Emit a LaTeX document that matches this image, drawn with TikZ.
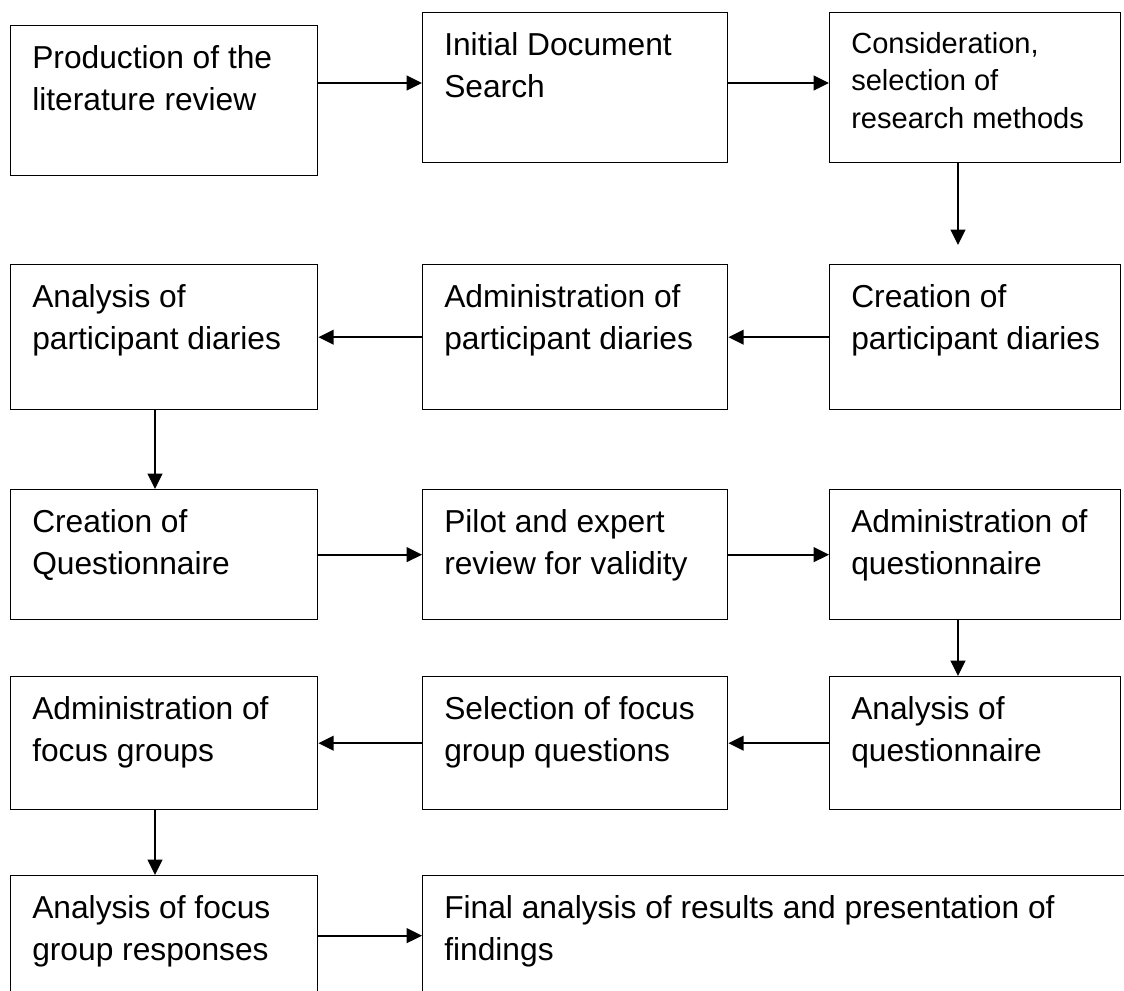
\documentclass[tikz,border=0pt]{standalone}
\usepackage{fontspec}
\setmainfont{Liberation Sans}
\usetikzlibrary{arrows.meta}

\tikzset{
  stage/.style={draw, line width=1pt, rectangle, anchor=north west, inner sep=0pt},
  stagetext/.style={anchor=north west, align=left, inner sep=0pt, xshift=16.5pt, yshift=-15pt,
    font=\fontsize{23.8}{31.5}\selectfont},
  flow/.style={-{Triangle[length=11.5pt,width=11pt]}, line width=1.5pt}
}

\begin{document}
\begin{tikzpicture}[x=0.75pt, y=-0.75pt]
  \useasboundingbox (0,0) rectangle (1124,991);
  % Boxes
  \node[stage, minimum width=230.25pt, minimum height=112.5pt] (prod) at (10,25) {};
  \node[stage, minimum width=228.75pt, minimum height=112.5pt] (search) at (422,12) {};
  \node[stage, minimum width=218.25pt, minimum height=112.5pt] (consid) at (829,12) {};
  \node[stage, minimum width=218.25pt, minimum height=108.75pt] (cdiary) at (829,264) {};
  \node[stage, minimum width=228.75pt, minimum height=108.75pt] (adiary) at (422,264) {};
  \node[stage, minimum width=230.25pt, minimum height=108.75pt] (andiary) at (10,264) {};
  \node[stage, minimum width=230.25pt, minimum height=97.5pt] (cquest) at (10,489) {};
  \node[stage, minimum width=228.75pt, minimum height=97.5pt] (pilot) at (422,489) {};
  \node[stage, minimum width=218.25pt, minimum height=97.5pt] (aquest) at (829,489) {};
  \node[stage, minimum width=218.25pt, minimum height=99.75pt] (anquest) at (829,676) {};
  \node[stage, minimum width=228.75pt, minimum height=99.75pt] (selfocus) at (422,676) {};
  \node[stage, minimum width=230.25pt, minimum height=99.75pt] (admfocus) at (10,676) {};
  \node[stage, minimum width=230.25pt, minimum height=90pt] (anfocus) at (10,875) {};
  \node[stage, minimum width=540pt, minimum height=90pt] (final) at (422,875) {};

  % Texts, top left in each box
  \node[stagetext] (prod-t) at (prod.north west) {Production of the\\literature review};
  \node[stagetext] (search-t) at (search.north west) {Initial Document\\Search};
  \node[stagetext, font=\fontsize{21.8}{28.1}\selectfont] (consid-t) at (consid.north west)
    {Consideration,\\selection of\\research methods};
  \node[stagetext] (cdiary-t) at (cdiary.north west) {Creation of\\participant diaries};
  \node[stagetext] (adiary-t) at (adiary.north west) {Administration of\\participant diaries};
  \node[stagetext] (andiary-t) at (andiary.north west) {Analysis of\\participant diaries};
  \node[stagetext] (cquest-t) at (cquest.north west) {Creation of\\Questionnaire};
  \node[stagetext] (pilot-t) at (pilot.north west) {Pilot and expert\\review for validity};
  \node[stagetext] (aquest-t) at (aquest.north west) {Administration of\\questionnaire};
  \node[stagetext] (anquest-t) at (anquest.north west) {Analysis of\\questionnaire};
  \node[stagetext] (selfocus-t) at (selfocus.north west) {Selection of focus\\group questions};
  \node[stagetext] (admfocus-t) at (admfocus.north west) {Administration of\\focus groups};
  \node[stagetext] (anfocus-t) at (anfocus.north west) {Analysis of focus\\group responses};
  \node[stagetext] (final-t) at (final.north west) {Final analysis of results and presentation of\\findings};

  \coordinate (lx) at (155,0);
  \coordinate (rx) at (958,0);
  \coordinate (ty) at (0,83);
  \coordinate (gap) at (958,245);

  % Row by row
  \draw[flow] (prod.east |- ty) -- (search.west |- ty);
  \draw[flow] (search.east |- ty) -- (consid.west |- ty);
  \draw[flow] (consid.south -| gap) -- (gap);
  \draw[flow] (cdiary.west) -- (adiary.east);
  \draw[flow] (adiary.west) -- (andiary.east);
  \draw[flow] (andiary.south -| lx) -- (cquest.north -| lx);
  \draw[flow] (cquest.east) -- (pilot.west);
  \draw[flow] (pilot.east) -- (aquest.west);
  \draw[flow] (aquest.south -| rx) -- (anquest.north -| rx);
  \draw[flow] (anquest.west) -- (selfocus.east);
  \draw[flow] (selfocus.west) -- (admfocus.east);
  \draw[flow] (admfocus.south -| lx) -- (anfocus.north -| lx);
  \draw[flow] (anfocus.east) -- (final.west);
\end{tikzpicture}
\end{document}
